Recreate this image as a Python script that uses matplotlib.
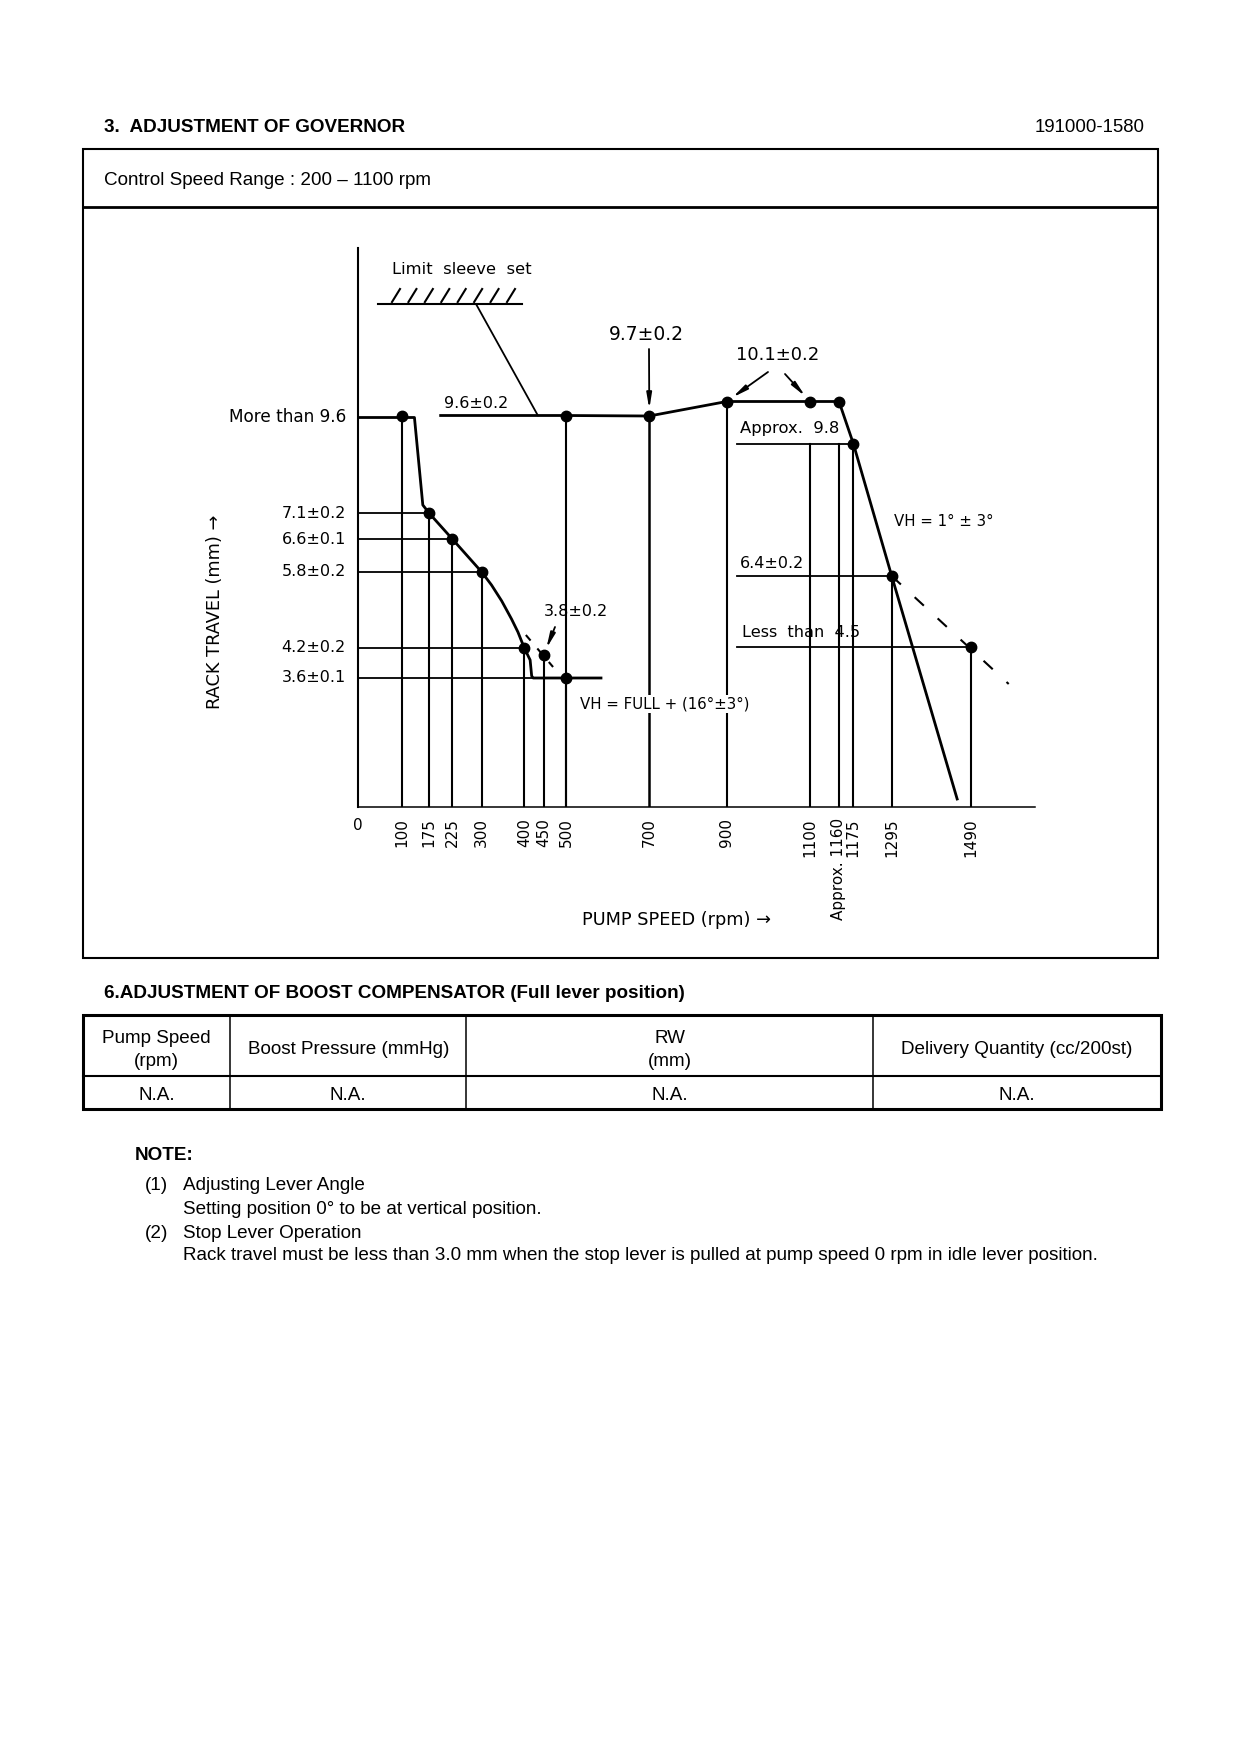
import numpy as np
import matplotlib
matplotlib.use('Agg')
import matplotlib.pyplot as plt
import matplotlib.transforms as mtransforms
from matplotlib.patches import Rectangle

# ---- values ----
speed_ticks = [0, 100, 175, 225, 300, 400, 450, 500, 700, 900, 1100, 1160, 1175, 1295, 1490]
tick_labels = ['0', '100', '175', '225', '300', '400', '450', '500', '700',
               '900', '1100', 'Approx. 1160', '1175', '1295', '1490']

# idle side set points (rpm, rack travel mm)
idle_rpm = [100, 175, 225, 300, 400, 450, 500]
idle_rack = [9.6, 7.1, 6.6, 5.8, 4.2, 3.8, 3.6]
idle_text = ['More than 9.6', '7.1±0.2', '6.6±0.1', '5.8±0.2', '4.2±0.2', '3.8±0.2', '3.6±0.1']

# full load side set points
full_rpm = [500, 700, 900, 1100, 1160, 1175, 1295, 1490]
full_rack = [9.6, 9.7, 10.1, 10.1, 10.1, 9.8, 6.4, 4.5]

# the sheet is a sketch, not to scale:
# drawn height of each rack level above the speed axis
level_h = {3.6: 129, 3.8: 152, 4.2: 159, 4.5: 160.5, 5.8: 235, 6.4: 231, 6.6: 268,
           7.1: 294, 9.6: 391.5, 9.7: 391, 9.8: 363.5, 10.1: 405.5}
# drawn distance of each speed from the origin
axis_rpm = [0, 100, 175, 225, 300, 400, 450, 500, 700, 900, 1100, 1160, 1175, 1295, 1490, 1800]
axis_pos = [0, 44.2, 71.5, 94.8, 124.2, 166.8, 186.2, 208.5, 291.8, 369.2, 452.5,
            481.5, 495.8, 534.2, 613, 739]

# traced governor curves (rpm, drawn height)
idle_curve_rpm = [0, 100, 135, 158, 175, 225, 300, 323, 347, 370, 385, 400, 415, 419, 423, 584]
idle_curve_h = [389.5, 389.5, 389.5, 302, 294, 268, 235, 222, 206, 188, 175, 159, 147, 131, 129, 129]
full_curve_rpm = [200, 500, 700, 900, 1100, 1160, 1175, 1295, 1457]
full_curve_h = [391.5, 391.5, 391, 405.5, 405.5, 405.5, 363.5, 231, 8]
idle_dash_rpm, idle_dash_h = [404, 471], [172, 140]
full_dash_rpm, full_dash_h = [1295, 1584], [231, 123]


def fwd(x):
    return np.interp(x, axis_rpm, axis_pos)


def inv(p):
    return np.interp(p, axis_pos, axis_rpm)


W, H = 1240, 1754
X0, Y0, X1, YT = 357.5, 807, 1035, 248
fig = plt.figure(figsize=(W / 100, H / 100), dpi=100)
ax = fig.add_axes([X0 / W, 1 - Y0 / H, (X1 - X0) / W, (Y0 - YT) / H])
ax.set_xscale('function', functions=(fwd, inv))
ax.set_xlim(0, inv(X1 - X0))
ax.set_ylim(0, Y0 - YT)
ax.patch.set_alpha(0)
for s in ['top', 'right']:
    ax.spines[s].set_visible(False)
ax.spines['left'].set_linewidth(1.5)
ax.spines['bottom'].set_linewidth(1.1)
ax.set_yticks([])
ax.set_xticks(speed_ticks)
ax.set_xticklabels(tick_labels, rotation=90, fontsize=11, family='DejaVu Sans')
ax.tick_params(axis='x', length=0, pad=8)
ax.get_xticklabels()[0].set_rotation(0)

k = 'black'
# reference lines to the left axis
for r, v in zip(idle_rpm[1:], idle_rack[1:]):
    if v == 3.8:
        continue
    ax.plot([0, r], [level_h[v]] * 2, color=k, lw=1.3)
# reference lines on the right
for r, v in zip(full_rpm[5:], full_rack[5:]):
    ax.plot([925, r], [level_h[v]] * 2, color=k, lw=1.3)

# drop lines
for r, v in zip(idle_rpm, idle_rack):
    ax.plot([r, r], [0, level_h[v]], color=k, lw=1.5)
for r, v in zip(full_rpm, full_rack):
    top = level_h[v] if r not in (1100, 1160) else level_h[9.8]
    ax.plot([r, r], [0, top], color=k, lw=1.8 if r == 700 else 1.5)

# curves
ax.plot(idle_curve_rpm, idle_curve_h, color=k, lw=2.0, solid_joinstyle='round')
ax.plot(full_curve_rpm, full_curve_h, color=k, lw=2.0, solid_joinstyle='round')
ax.plot(idle_dash_rpm, idle_dash_h, color=k, lw=1.5, dashes=(3.5, 5))
ax.plot(full_dash_rpm, full_dash_h, color=k, lw=1.5, dashes=(6, 9))

# set points
ax.plot(idle_rpm, [level_h[v] for v in idle_rack], 'o', color=k, ms=7.5)
ax.plot(full_rpm, [level_h[v] for v in full_rack], 'o', color=k, ms=7.5)

# ---- overlay in sheet pixels for frames and text ----
over = fig.add_axes([0, 0, 1, 1], zorder=5)
over.set_xlim(0, W)
over.set_ylim(H, 0)
over.axis('off')
over.patch.set_alpha(0)
lvl = mtransforms.blended_transform_factory(over.transData, ax.transData)

doc = ['Liberation Sans', 'DejaVu Sans']
fs = 13.6
cf = dict(family='DejaVu Sans', fontsize=11.5, color=k)

over.text(104, 127, '3.  ADJUSTMENT OF GOVERNOR', family=doc, fontsize=fs,
          fontweight='bold', va='center')
over.text(1145, 127, '191000-1580', family=doc, fontsize=13.4, va='center', ha='right')
over.add_patch(Rectangle((82.7, 148.7), 1158 - 82.7, 958 - 148.7, fill=False, lw=1.5, ec=k))
over.plot([82.7, 1158], [206.8, 206.8], color=k, lw=2, solid_capstyle='butt')
over.text(104, 180.5, 'Control Speed Range : 200 – 1100 rpm', family=doc, fontsize=fs, va='center')

# chart labels
over.text(215, 612, 'RACK TRAVEL (mm) →', rotation=90, ha='center', va='center',
          family='DejaVu Sans', fontsize=12.8)
over.text(677, 920, 'PUMP SPEED (rpm) →', ha='center', va='center',
          family='DejaVu Sans', fontsize=12.8)

for v, t in zip(idle_rack, idle_text):
    if v == 3.8:
        continue
    hh = level_h[v] - 2 if v == 9.6 else level_h[v]
    over.text(346, hh, t, ha='right', va='center', transform=lvl,
              **dict(cf, fontsize=12.2 if v == 9.6 else 11.5))

over.text(476, level_h[9.6] + 12.5, '9.6±0.2', ha='center', va='center', transform=lvl, **cf)
over.text(740, level_h[9.8] + 15, 'Approx.  9.8', ha='left', va='center', transform=lvl,
          **dict(cf, fontsize=11.8))
over.text(740, level_h[6.4] + 13, '6.4±0.2', ha='left', va='center', transform=lvl, **cf)
over.text(742, level_h[4.5] + 14, 'Less  than  4.5', ha='left', va='center', transform=lvl,
          **dict(cf, fontsize=11.6))
over.text(944, 522, 'VH = 1° ± 3°', ha='center', va='center', **dict(cf, fontsize=10.8))
over.text(580, 704, 'VH = FULL + (16°±3°)', ha='left', va='center',
          bbox=dict(fc='white', ec='none', pad=1), **dict(cf, fontsize=10.8))

# limit sleeve symbol
over.text(462, 269, 'Limit  sleeve  set', ha='center', va='center', **dict(cf, fontsize=11.8))
over.plot([378, 522], [304, 304], color=k, lw=1.5)
for bx in np.linspace(392, 507, 8):
    over.plot([bx, bx + 8], [302, 289], color=k, lw=1.5)
over.annotate('', xy=(435, level_h[9.6]), xycoords=ax.transData, xytext=(476, 304),
              textcoords=over.transData, arrowprops=dict(arrowstyle='-', color=k, lw=1.3,
                                                         shrinkA=0, shrinkB=0))

arr = dict(arrowstyle='-|>,head_length=0.9,head_width=0.15', color=k, lw=1.3,
           shrinkA=0, shrinkB=5)
over.text(646, 335, '9.7±0.2', ha='center', va='center', fontsize=13.5, family='DejaVu Sans')
over.annotate('', xy=(700, level_h[9.7]), xycoords=ax.transData, xytext=(649, 349),
              textcoords=over.transData, arrowprops=arr)
over.text(778, 355, '10.1±0.2', ha='center', va='center', fontsize=13, family='DejaVu Sans')
over.annotate('', xy=(900, level_h[10.1]), xycoords=ax.transData, xytext=(768, 372),
              textcoords=over.transData, arrowprops=arr)
over.annotate('', xy=(1100, level_h[10.1]), xycoords=ax.transData, xytext=(785, 374),
              textcoords=over.transData, arrowprops=arr)
over.text(576, 612, '3.8±0.2', ha='center', va='center', **cf)
over.annotate('', xy=(450, level_h[3.8]), xycoords=ax.transData, xytext=(555, 627),
              textcoords=over.transData, arrowprops=arr)

# ---- boost compensator table ----
over.text(104, 993.5, '6.ADJUSTMENT OF BOOST COMPENSATOR (Full lever position)', family=doc,
          fontsize=fs, fontweight='bold', va='center')
tx = [82.7, 230.3, 466.2, 873.2, 1160.5]
ty = [1015, 1075.6, 1109]
over.add_patch(Rectangle((tx[0], ty[0]), tx[-1] - tx[0], ty[-1] - ty[0], fill=False, lw=2.2, ec=k))
over.plot([tx[0], tx[-1]], [ty[1], ty[1]], color=k, lw=1.5)
for x in tx[1:-1]:
    over.plot([x, x], [ty[0], ty[-1]], color=k, lw=1.1)
heads = ['Pump Speed\n(rpm)', 'Boost Pressure (mmHg)', 'RW\n(mm)', 'Delivery Quantity (cc/200st)']
for i, h in enumerate(heads):
    cx = (tx[i] + tx[i + 1]) / 2
    over.text(cx, 1050, h, ha='center', va='center', family=doc, fontsize=fs, linespacing=1.4)
    over.text(cx, 1096, 'N.A.', ha='center', va='center', family=doc, fontsize=fs)

# ---- notes ----
over.text(135, 1155, 'NOTE:', family=doc, fontsize=fs, fontweight='bold', va='center')
notes = [('(1)', 'Adjusting Lever Angle', 1186),
         ('', 'Setting position 0° to be at vertical position.', 1209.5),
         ('(2)', 'Stop Lever Operation', 1233),
         ('', 'Rack travel must be less than 3.0 mm when the stop lever is pulled at pump speed 0 rpm in idle lever position.', 1255.5)]
for n, t, y in notes:
    if n:
        over.text(145, y, n, family=doc, fontsize=fs, va='center')
    over.text(183, y, t, family=doc, fontsize=fs, va='center')

fig.savefig('out.png', dpi=100, facecolor='white')
